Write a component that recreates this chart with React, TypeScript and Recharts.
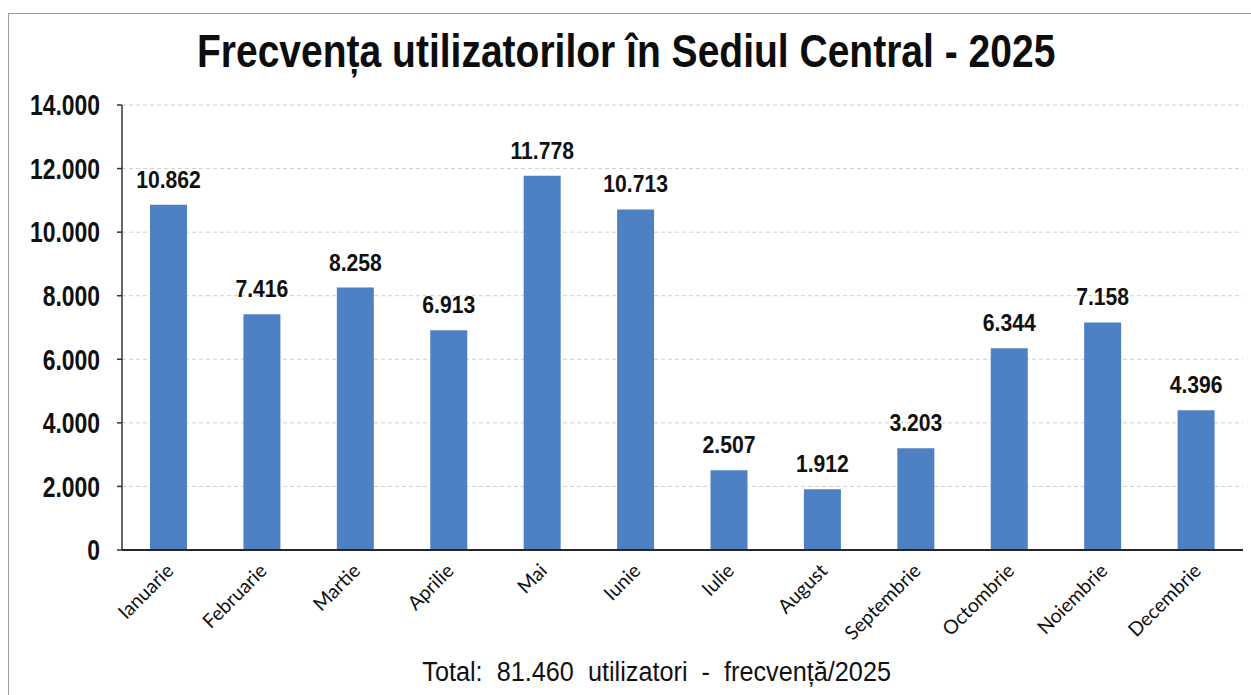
import { BarChart, Bar, XAxis, YAxis, CartesianGrid, LabelList } from "recharts";

const months = [
  "Ianuarie", "Februarie", "Martie", "Aprilie", "Mai", "Iunie",
  "Iulie", "August", "Septembrie", "Octombrie", "Noiembrie", "Decembrie",
];
const visitors = [10862, 7416, 8258, 6913, 11778, 10713, 2507, 1912, 3203, 6344, 7158, 4396];
const yTicks = [0, 2000, 4000, 6000, 8000, 10000, 12000, 14000];

const TITLE = "Frecvența utilizatorilor în Sediul Central - 2025";
const FOOTER = "Total:  81.460  utilizatori  -  frecvență/2025";

// no narrow font installed, so Liberation Sans is squeezed horizontally instead
const SANS = '"Liberation Sans", Arial, sans-serif';

// Romanian thousands separator: 10.862
const fmt = (v: number) => String(v).replace(/\B(?=(\d{3})+(?!\d))/g, ".");

const chartData = months.map((month, i) => ({ month, value: visitors[i] }));

const ValueTick = ({ x, y, payload }: any) => (
  <text
    transform={`translate(${x}, ${y}) scale(0.79, 1)`}
    textAnchor="end"
    dy="0.355em"
    fill="#111"
    fontFamily={SANS}
    fontWeight={700}
    fontSize={29}
  >
    {fmt(payload.value)}
  </text>
);

const MonthTick = ({ x, y, payload }: any) => (
  <text
    x={x + 6}
    y={y + 22}
    textAnchor="end"
    transform={`rotate(-45, ${x + 6}, ${y + 22})`}
    fill="#111"
    fontFamily='Lato, "Open Sans", sans-serif'
    fontSize={19.5}
  >
    {payload.value}
  </text>
);

const BarValue = ({ x, y, width, value }: any) => (
  <text
    transform={`translate(${x + width / 2}, ${y - 17}) scale(0.9, 1)`}
    textAnchor="middle"
    fill="#111"
    fontFamily={SANS}
    fontWeight={700}
    fontSize={23.5}
  >
    {fmt(Number(value))}
  </text>
);

export default function App() {
  return (
    <div
      style={{
        position: "absolute",
        left: 0,
        top: 0,
        width: 1251,
        height: 695,
        overflow: "hidden",
        background: "#fff",
      }}
    >
      {/* frame of the original slide, cut off on the right and bottom */}
      <div
        style={{
          position: "absolute",
          left: 8,
          top: 13,
          width: 1400,
          height: 800,
          border: "1.5px solid #9c9c9c",
        }}
      />
      <div
        style={{
          position: "absolute",
          left: 0,
          width: 1251,
          top: 25,
          textAlign: "center",
          fontFamily: SANS,
          fontWeight: 700,
          fontSize: 46,
          lineHeight: "53px",
          color: "#0d0d0d",
          whiteSpace: "pre",
        }}
      >
        <span style={{ display: "inline-block", transform: "translateX(1px) scaleX(0.848)" }}>{TITLE}</span>
      </div>

      <div style={{ position: "absolute", left: 0, top: 0 }}>
        <BarChart
          width={1251}
          height={695}
          data={chartData}
          margin={{ top: 105, right: 8, bottom: 0, left: 0 }}
        >
          <CartesianGrid
            vertical={false}
            stroke="#cfcfcf"
            strokeDasharray="4 3"
          />
          <XAxis
            dataKey="month"
            interval={0}
            tickLine={false}
            tickSize={0}
            tickMargin={0}
            height={145}
            axisLine={{ stroke: "#262626", strokeWidth: 2 }}
            tick={<MonthTick />}
          />
          <YAxis
            width={122}
            domain={[0, 14000]}
            ticks={yTicks}
            interval={0}
            tickSize={5}
            tickMargin={17}
            axisLine={{ stroke: "#333", strokeWidth: 1.5 }}
            tickLine={{ stroke: "#333", strokeWidth: 1.5 }}
            tick={<ValueTick />}
          />
          <Bar dataKey="value" fill="#4e81c4" barSize={37} isAnimationActive={false}>
            <LabelList dataKey="value" content={<BarValue />} />
          </Bar>
        </BarChart>
      </div>

      <div
        style={{
          position: "absolute",
          left: 657 - 400,
          width: 800,
          top: 657,
          textAlign: "center",
          fontFamily: SANS,
          fontSize: 27,
          lineHeight: "31px",
          color: "#111",
          whiteSpace: "pre",
        }}
      >
        <span style={{ display: "inline-block", transform: "scaleX(0.935)" }}>{FOOTER}</span>
      </div>
    </div>
  );
}
